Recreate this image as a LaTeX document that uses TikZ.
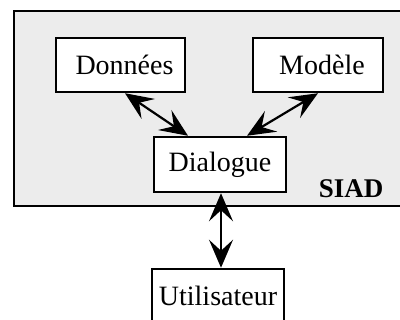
\documentclass[tikz,border=0pt]{standalone}
\usepackage{fontspec}
\setmainfont{Liberation Serif}
\usepackage{tikz}
\usetikzlibrary{arrows.meta}
\usetikzlibrary{calc}
\usepackage{xcolor}
\definecolor{myGrey}{rgb}{0.925,0.925,0.925}
\tikzset{
  module/.style={draw=black, fill=white, line width=2.5pt, inner sep=0pt,
    minimum width=130pt, minimum height=54pt, font=\fontsize{28}{32}\selectfont},
  link/.style={line width=2.2pt, {Stealth[length=28pt,width=24pt,inset=11pt]}-{Stealth[length=28pt,width=24pt,inset=11pt]}},
}

\begin{document}
\begin{tikzpicture}[x=1pt,y=-1pt]

%%%%%%%%%%%%%%%%%%%%%%%%%%%%%%%%%%%%%%%%%%%%%%%%%%%%%%%%%%%%%% Setup
\useasboundingbox (0,0) rectangle (400,320);
\clip (0,0) rectangle (400,320);

%%%%%%%%%%%%%%%%%%%%%%%%%%%%%%%%%%%%%%%%%%%%%%%%%%%%%%%%%%%%%% SIAD frame
\filldraw[draw=black, fill=myGrey, line width=2.5pt] (420,206) -- (14,206) -- (14,11) -- (420,11);
\node[anchor=base east, font=\fontsize{27}{30}\selectfont\bfseries] (siad) at (387,198) {SIAD};

%%%%%%%%%%%%%%%%%%%%%%%%%%%%%%%%%%%%%%%%%%%%%%%%%%%%%%%%%%%%%% Modules
\node[module, minimum width=129pt] (donnees) at (120.5,65) {\hspace{8pt}Données};
\node[module] (modele) at (318,65) {\hspace{8pt}Modèle};
\node[module, minimum width=132pt, minimum height=55pt] (dialogue) at (220,164.5) {Dialogue};
\node[module, minimum width=132pt] (user) at (218,296) {Utilisateur};

%%%%%%%%%%%%%%%%%%%%%%%%%%%%%%%%%%%%%%%%%%%%%%%%%%%%%%%%%%%%%% Links
\draw[link] ([xshift=4.5pt]donnees.south) -- ([xshift=-32pt]dialogue.north);
\draw[link] (modele.south) -- ([xshift=27pt]dialogue.north);
\draw[link] ([xshift=1pt]dialogue.south) -- ([xshift=3pt]user.north);

\end{tikzpicture}
\end{document}
